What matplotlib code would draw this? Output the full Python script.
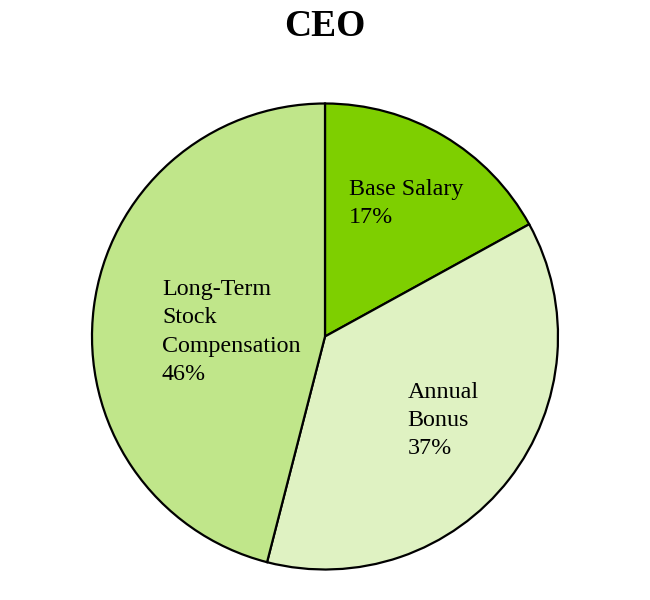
import matplotlib
matplotlib.use("Agg")
import matplotlib.pyplot as plt

categories = ["Base Salary", "Annual\nBonus", "Long-Term\nStock\nCompensation"]
values = [17, 37, 46]
colors = ["#7ecf00", "#dff2c2", "#c0e68a"]
title = "CEO"

plt.rcParams['font.family'] = ['Liberation Serif', 'DejaVu Serif']

fig = plt.figure(figsize=(6.5, 6), dpi=100)
ax = fig.add_axes([92/650, 30/600, 466/650, 467/600])
wedges, _ = ax.pie(values, colors=colors, startangle=90, counterclock=False,
                   wedgeprops=dict(edgecolor="black", linewidth=1.6))
ax.set_xlim(-1, 1)
ax.set_ylim(-1, 1)
ax.set_aspect('equal')

label_pos = [(0.103, 0.57), (0.355, -0.36), (-0.70, 0.02)]
for cat, v, (x, y) in zip(categories, values, label_pos):
    ax.text(x, y, f"{cat}\n{v}%", ha='left', va='center', fontsize=17.3,
            linespacing=1.46, color='black')

fig.text(0.5, 1 - 27/600, title, ha='center', va='center', fontsize=27,
         fontweight='bold')

fig.savefig("out.png", dpi=100)
